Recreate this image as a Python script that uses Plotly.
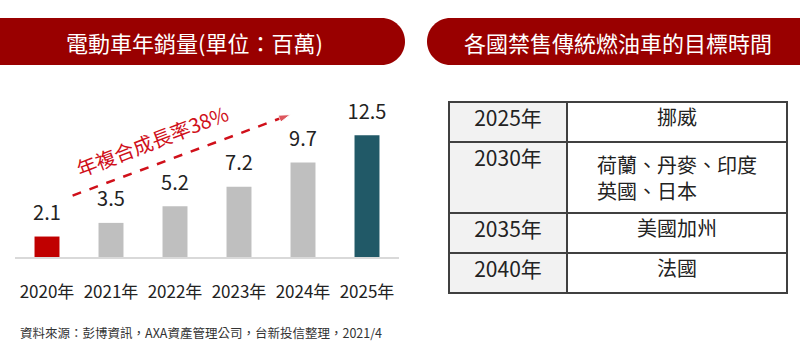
import plotly.graph_objects as go

W, H = 800, 350

# ---- data ----
years = ["2020年", "2021年", "2022年", "2023年", "2024年", "2025年"]
sales = [2.1, 3.5, 5.2, 7.2, 9.7, 12.5]
bar_colors = ["#c00000", "#bfbfbf", "#bfbfbf", "#bfbfbf", "#bfbfbf", "#215967"]
cagr_label = "年複合成長率38%"
cagr_arrow_x = [0.40, 3.80]
cagr_arrow_y = [6.3, 14.6]

ban_years = ["2025年", "2030年", "2035年", "2040年"]
ban_countries = ["挪威", "荷蘭、丹麥、印度<br>英國、日本", "美國加州", "法國"]

title_left = "電動車年銷量(單位：百萬)"
title_right = "各國禁售傳統燃油車的目標時間"
source = "資料來源：彭博資訊，AXA資產管理公司，台新投信整理，2021/4"

CJK = "Noto Sans CJK TC"


def px(x):
    return x / W


def py(y):
    return 1 - y / H


def pt(x, y):
    return f"{px(x):.5f},{py(y):.5f}"


fig = go.Figure()

xs = list(range(len(years)))
fig.add_trace(go.Bar(
    x=xs, y=sales, marker=dict(color=bar_colors, line=dict(width=0)),
    width=0.39, hoverinfo="skip",
))

# value labels above the bars (invisible marker pushes the text up)
fig.add_trace(go.Scatter(
    x=xs, y=sales, mode="markers+text",
    text=[f"{v:.1f}" for v in sales], textposition="top center",
    marker=dict(size=17, opacity=0),
    textfont=dict(family=CJK, size=20, color="#222222"),
    cliponaxis=False, hoverinfo="skip",
))

fig.add_trace(go.Scatter(
    x=cagr_arrow_x, y=cagr_arrow_y, mode="lines+markers",
    line=dict(color="#d0101a", width=2.5, dash="dash"),
    marker=dict(symbol="arrow", size=[0, 12], angleref="previous", color="#d0101a"),
    hoverinfo="skip", cliponaxis=False,
))

fig.add_trace(go.Table(
    domain=dict(x=[px(449), px(787)], y=[py(310), py(102)]),
    columnwidth=[118, 220],
    header=dict(values=["", ""], height=0, line=dict(width=0), fill=dict(color="rgba(0,0,0,0)")),
    cells=dict(
        values=[ban_years, ban_countries],
        height=40,
        align="center",
        fill=dict(color=[["#f2f2f2"] * 4, ["#ffffff"] * 4]),
        line=dict(color="#404040", width=2),
        font=dict(family=CJK, size=[21, 20], color="#222222"),
    ),
))

# banners
r = 23.5
k = 0.5523 * r
top, bot, mid = 18, 65, 41.5
lx = 405 - r
left_path = (f"M {pt(-5, top)} L {pt(lx, top)} "
             f"C {pt(lx + k, top)} {pt(405, mid - k)} {pt(405, mid)} "
             f"C {pt(405, mid + k)} {pt(lx + k, bot)} {pt(lx, bot)} "
             f"L {pt(-5, bot)} Z")
rx = 427 + r
right_path = (f"M {pt(805, top)} L {pt(rx, top)} "
              f"C {pt(rx - k, top)} {pt(427, mid - k)} {pt(427, mid)} "
              f"C {pt(427, mid + k)} {pt(rx - k, bot)} {pt(rx, bot)} "
              f"L {pt(805, bot)} Z")

shapes = [
    dict(type="path", xref="paper", yref="paper", path=left_path,
         fillcolor="#990000", line=dict(width=0), layer="below"),
    dict(type="path", xref="paper", yref="paper", path=right_path,
         fillcolor="#990000", line=dict(width=0), layer="below"),
]

annotations = [
    dict(text=title_left, x=px(194), y=py(42), xref="paper", yref="paper",
         xanchor="center", yanchor="middle",
         showarrow=False, font=dict(family=CJK, size=22, color="white")),
    dict(text=title_right, x=px(618), y=py(42), xref="paper", yref="paper",
         xanchor="center", yanchor="middle",
         showarrow=False, font=dict(family=CJK, size=22, color="white")),
    dict(text=source, x=px(18), y=py(332), xref="paper", yref="paper",
         xanchor="left", yanchor="middle", showarrow=False,
         font=dict(family=CJK, size=12.5, color="#333333")),
    dict(text=cagr_label, x=1.65, y=11.9, xref="x", yref="y", textangle=-21,
         xanchor="center", yanchor="middle",
         showarrow=False, font=dict(family=CJK, size=20, color="#d0101a")),
]

fig.update_layout(
    width=W, height=H, margin=dict(l=0, r=0, t=0, b=0),
    paper_bgcolor="white", plot_bgcolor="white",
    showlegend=False, shapes=shapes, annotations=annotations,
    xaxis=dict(domain=[px(15), px(399)], range=[-0.5, 5.5],
               tickvals=xs, ticktext=years, showgrid=False, zeroline=False,
               showline=True, linecolor="#d9d9d9", linewidth=1.5,
               ticks="", ticklabelstandoff=19,
               tickfont=dict(family=CJK, size=17, color="#222222")),
    yaxis=dict(domain=[py(257), py(90)], range=[0, 167 / 9.75],
               visible=False, showgrid=False, zeroline=False),
)

fig.write_html("out.html")
